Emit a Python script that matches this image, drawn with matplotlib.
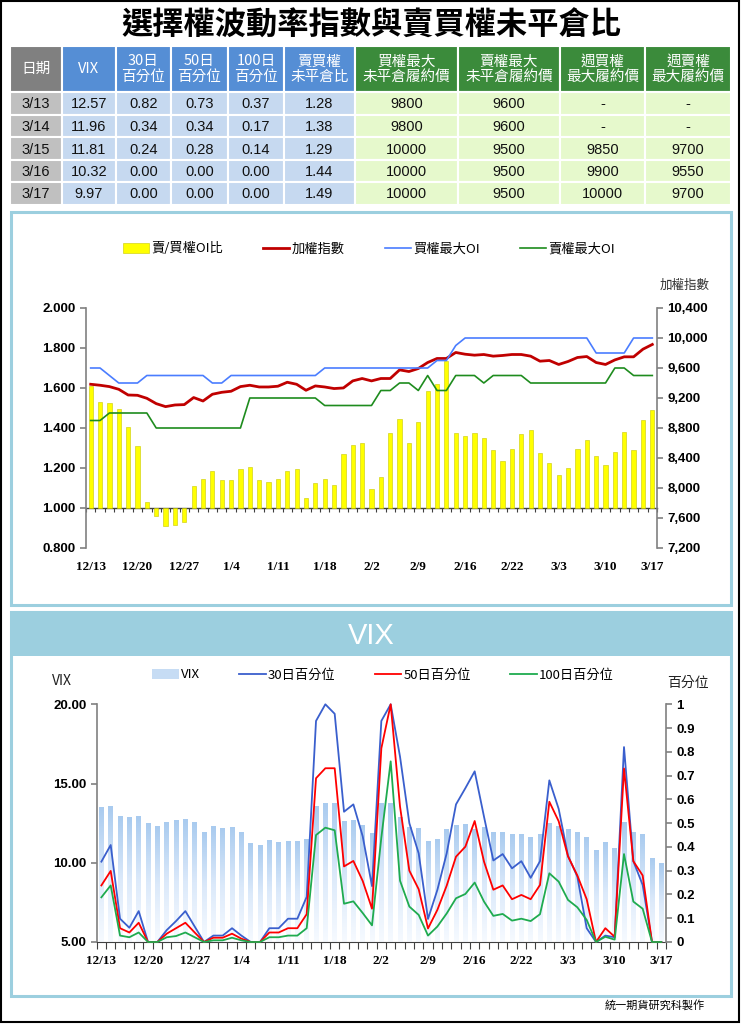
import numpy as np
import matplotlib
matplotlib.use('Agg')
import matplotlib.pyplot as plt
from matplotlib.patches import Rectangle
from matplotlib.lines import Line2D
from matplotlib.colors import LinearSegmentedColormap
from matplotlib.ticker import FormatStrFormatter, FuncFormatter

plt.rcParams['font.family'] = ['Noto Sans CJK TC', 'DejaVu Sans']

dates = ['12/13', '12/14', '12/15', '12/16', '12/19', '12/20', '12/21', '12/22', '12/23', '12/26',
         '12/27', '12/28', '12/29', '12/30', '1/3', '1/4', '1/5', '1/6', '1/9', '1/10',
         '1/11', '1/12', '1/13', '1/16', '1/17', '1/18', '1/19', '1/20', '1/23', '1/24',
         '2/2', '2/3', '2/6', '2/7', '2/8', '2/9', '2/10', '2/13', '2/14', '2/15',
         '2/16', '2/17', '2/18', '2/20', '2/21', '2/22', '2/23', '2/24', '3/1', '3/2',
         '3/3', '3/6', '3/7', '3/8', '3/9', '3/10', '3/13', '3/14', '3/15', '3/16', '3/17']

# 賣/買權OI比
oi_ratio = [1.61, 1.53, 1.525, 1.497, 1.405, 1.31, 1.031, 0.962, 0.912, 0.917,
            0.93, 1.111, 1.143, 1.183, 1.138, 1.138, 1.193, 1.206, 1.138, 1.13,
            1.146, 1.183, 1.193, 1.048, 1.124, 1.146, 1.114, 1.268, 1.315, 1.327,
            1.093, 1.156, 1.373, 1.444, 1.327, 1.43, 1.585, 1.62, 1.733, 1.377,
            1.36, 1.377, 1.35, 1.29, 1.237, 1.293, 1.368, 1.39, 1.273, 1.223,
            1.164, 1.2, 1.293, 1.342, 1.26, 1.216, 1.28, 1.38, 1.29, 1.44, 1.49]
# 加權指數
taiex = [9383, 9370, 9352, 9316, 9240, 9236, 9196, 9125, 9085, 9107,
         9112, 9206, 9160, 9250, 9276, 9290, 9352, 9370, 9347, 9347,
         9357, 9410, 9383, 9303, 9361, 9347, 9326, 9334, 9428, 9460,
         9428, 9460, 9460, 9575, 9553, 9593, 9673, 9727, 9727, 9807,
         9784, 9771, 9780, 9758, 9767, 9780, 9780, 9758, 9691, 9700,
         9647, 9687, 9740, 9753, 9673, 9647, 9708, 9749, 9749, 9851, 9914]
# 買權最大OI
call_max_oi = [9600, 9600, 9500, 9400, 9400, 9400, 9500, 9500, 9500, 9500,
               9500, 9500, 9500, 9400, 9400, 9500, 9500, 9500, 9500, 9500,
               9500, 9500, 9500, 9500, 9500, 9600, 9600, 9600, 9600, 9600,
               9600, 9600, 9600, 9600, 9600, 9600, 9600, 9700, 9700, 9900,
               10000, 10000, 10000, 10000, 10000, 10000, 10000, 10000, 10000, 10000,
               10000, 10000, 10000, 10000, 9800, 9800, 9800, 9800, 10000, 10000, 10000]
# 賣權最大OI
put_max_oi = [8900, 8900, 9000, 9000, 9000, 9000, 9000, 8800, 8800, 8800,
              8800, 8800, 8800, 8800, 8800, 8800, 8800, 9200, 9200, 9200,
              9200, 9200, 9200, 9200, 9200, 9100, 9100, 9100, 9100, 9100,
              9100, 9300, 9300, 9400, 9400, 9300, 9500, 9300, 9300, 9500,
              9500, 9500, 9400, 9500, 9500, 9500, 9500, 9400, 9400, 9400,
              9400, 9400, 9400, 9400, 9400, 9400, 9600, 9600, 9500, 9500, 9500]

vix = [13.50, 13.56, 12.93, 12.87, 12.93, 12.53, 12.32, 12.59, 12.70, 12.76,
       12.59, 11.96, 12.30, 12.19, 12.26, 11.96, 11.23, 11.12, 11.45, 11.33,
       11.36, 11.40, 11.51, 13.57, 13.77, 13.77, 12.64, 12.70, 12.39, 11.89,
       13.75, 13.79, 12.91, 12.27, 12.17, 11.38, 11.49, 12.11, 12.37, 12.42,
       12.11, 12.28, 11.94, 11.94, 11.80, 11.84, 11.61, 11.84, 12.49, 12.30,
       12.12, 11.94, 11.61, 10.82, 11.33, 10.94, 12.57, 11.96, 11.81, 10.32, 9.97]
pct30 = [0.338, 0.408, 0.098, 0.06, 0.13, 0, 0, 0.05, 0.088, 0.13,
         0.065, 0, 0.027, 0.027, 0.058, 0.027, 0, 0, 0.058, 0.058,
         0.098, 0.098, 0.19, 0.93, 1.0, 0.96, 0.548, 0.579, 0.445, 0.235,
         0.93, 1.0, 0.78, 0.50, 0.373, 0.097, 0.219, 0.373, 0.579, 0.647,
         0.718, 0.527, 0.343, 0.37, 0.31, 0.34, 0.27, 0.34, 0.68, 0.56,
         0.363, 0.275, 0.058, 0, 0.027, 0.02, 0.82, 0.34, 0.24, 0, 0]
pct50 = [0.238, 0.299, 0.058, 0.04, 0.081, 0, 0, 0.035, 0.058, 0.081,
         0.04, 0, 0.018, 0.018, 0.035, 0.014, 0, 0, 0.04, 0.04,
         0.058, 0.058, 0.117, 0.689, 0.731, 0.731, 0.318, 0.341, 0.257, 0.14,
         0.815, 1.0, 0.57, 0.30, 0.222, 0.057, 0.135, 0.237, 0.359, 0.401,
         0.509, 0.338, 0.22, 0.238, 0.18, 0.198, 0.18, 0.24, 0.59, 0.508,
         0.36, 0.28, 0.18, 0, 0.058, 0.022, 0.73, 0.34, 0.28, 0, 0]
pct100 = [0.188, 0.238, 0.027, 0.02, 0.04, 0, 0, 0.02, 0.025, 0.04,
          0.02, 0, 0.007, 0.007, 0.018, 0.007, 0, 0, 0.02, 0.02,
          0.027, 0.027, 0.058, 0.45, 0.481, 0.47, 0.161, 0.171, 0.122, 0.07,
          0.44, 0.76, 0.258, 0.149, 0.114, 0.027, 0.065, 0.12, 0.184, 0.202,
          0.25, 0.17, 0.11, 0.118, 0.09, 0.098, 0.088, 0.117, 0.289, 0.254,
          0.177, 0.146, 0.093, 0, 0.022, 0.01, 0.37, 0.17, 0.14, 0, 0]

weekly_call = ['-', '-', '9850', '9900', '10000']
weekly_put = ['-', '-', '9700', '9550', '9700']

title = '選擇權波動率指數與賣買權未平倉比'
headers = ['日期', 'VIX', '30日\n百分位', '50日\n百分位', '100日\n百分位', '賣買權\n未平倉比',
           '買權最大\n未平倉履約價', '賣權最大\n未平倉履約價', '週買權\n最大履約價', '週賣權\n最大履約價']

W, H = 742, 1024
fig = plt.figure(figsize=(W / 100, H / 100), dpi=100)
bg = fig.add_axes([0, 0, 1, 1])
bg.set_xlim(0, W)
bg.set_ylim(H, 0)
bg.axis('off')


def px_axes(l, t, r, b):
    a = fig.add_axes([l / W, 1 - b / H, (r - l) / W, (b - t) / H])
    a.patch.set_alpha(0)
    return a


bg.add_patch(Rectangle((1, 1), 738, 1021, fill=False, ec='black', lw=1.5))
bg.text(371, 26, title, ha='center', va='center', fontsize=22.5, fontweight='bold')

# table
n = 5
rows = []
for i in range(n):
    k = len(dates) - n + i
    rows.append([dates[k], f'{vix[k]:.2f}', f'{pct30[k]:.2f}', f'{pct50[k]:.2f}', f'{pct100[k]:.2f}',
                 f'{oi_ratio[k]:.2f}', str(call_max_oi[k]), str(put_max_oi[k]), weekly_call[i], weekly_put[i]])

col_x = [10, 62, 116, 171, 228, 284, 355, 458, 560, 645, 731]
row_y = [46, 92, 115, 137, 160, 182, 205]
head_fc = ['#808080'] + ['#558ed5'] * 5 + ['#3b8b3b'] * 4
body_fc = ['#c0c0c0'] + ['#c6d9f0'] * 5 + ['#e6f9cc'] * 4
for j in range(10):
    x0, x1 = col_x[j], col_x[j + 1]
    for i in range(6):
        y0, y1 = row_y[i], row_y[i + 1]
        fc = head_fc[j] if i == 0 else body_fc[j]
        bg.add_patch(Rectangle((x0, y0), x1 - x0, y1 - y0, fc=fc, ec='white', lw=1.5))
        if i == 0:
            bg.text((x0 + x1) / 2, (y0 + y1) / 2, headers[j], ha='center', va='center',
                    color='white', fontsize=10.5, linespacing=1.1)
        else:
            bg.text((x0 + x1) / 2, (y0 + y1) / 2 + 1, rows[i - 1][j], ha='center', va='center',
                    color='#111111', fontsize=10.5, family='Liberation Sans')

# panels
frame_c = '#9ccfdf'
bg.add_patch(Rectangle((11, 212), 720, 393, fill=False, ec=frame_c, lw=2.2))
bg.add_patch(Rectangle((11, 612), 720, 384, fill=False, ec=frame_c, lw=2.2))
bg.add_patch(Rectangle((12, 613), 718, 43, fc=frame_c, ec='none'))
bg.text(371, 636, 'VIX', ha='center', va='center', fontsize=21, color='white',
        family='Liberation Sans')
bg.text(655, 1005, '統一期貨研究科製作', ha='center', va='center', fontsize=8)

x = np.arange(len(dates))
bounds = np.arange(-0.5, len(dates), 1)
gray = '#808080'
tick_font = {'family': 'Liberation Sans', 'weight': 'bold', 'size': 9.5}
date_font = {'family': 'Liberation Serif', 'weight': 'bold', 'size': 9.5}

# top chart
ax1 = px_axes(86, 308, 657, 548)
ax1.bar(x, np.array(oi_ratio) - 1.0, bottom=1.0, width=0.45, color='#ffff00',
        edgecolor='#c8c800', linewidth=0.4, zorder=2)
ax1.set_xlim(-0.5, len(dates) - 0.5)
ax1.set_ylim(0.8, 2.0)
ax1.set_yticks(np.arange(0.8, 2.01, 0.2))
ax1.yaxis.set_major_formatter(FormatStrFormatter('%.3f'))
ax1.set_xticks(x[::5])
ax1.set_xticklabels(dates[::5], fontdict=date_font)
ax1.tick_params(axis='x', length=0, pad=9)
ax1.tick_params(axis='y', direction='out', length=4, color=gray, width=1.2)
for lab in ax1.get_yticklabels():
    lab.set_fontproperties(tick_font)
for s in ['top', 'bottom', 'right']:
    ax1.spines[s].set_visible(False)
ax1.spines['left'].set_color(gray)
ax1.spines['left'].set_linewidth(1.2)

sec = ax1.secondary_xaxis((1.0 - 0.8) / 1.2)
sec.set_xticks(bounds)
sec.set_xticklabels([])
sec.tick_params(direction='out', length=3, color='#404040', width=0.8)
for s in sec.spines.values():
    s.set_color('#404040')
    s.set_linewidth(1.0)

ax2 = ax1.twinx()
ax2.set_ylim(7200, 10400)
ax2.set_yticks(np.arange(7200, 10401, 400))
ax2.yaxis.set_major_formatter(FuncFormatter(lambda v, p: f'{v:,.0f}'))
ax2.plot(x, taiex, color='#c00000', lw=2.0, zorder=3)
ax2.plot(x, call_max_oi, color='#4a7dff', lw=1.2, zorder=3)
ax2.plot(x, put_max_oi, color='#1e8c1e', lw=1.2, zorder=3)
ax2.tick_params(axis='y', direction='out', length=4, color=gray, width=1.2)
for lab in ax2.get_yticklabels():
    lab.set_fontproperties(tick_font)
for s in ['top', 'bottom', 'left']:
    ax2.spines[s].set_visible(False)
ax2.spines['right'].set_color(gray)
ax2.spines['right'].set_linewidth(1.2)

handles = [Rectangle((0, 0), 1, 1, fc='#ffff00', ec='#c8c800', lw=0.4),
           Line2D([], [], color='#c00000', lw=2.0),
           Line2D([], [], color='#4a7dff', lw=1.2),
           Line2D([], [], color='#1e8c1e', lw=1.2)]
fig.legend(handles, ['賣/買權OI比', '加權指數', '買權最大OI', '賣權最大OI'], loc='center',
           bbox_to_anchor=(369 / W, 1 - 249 / H), ncol=4, frameon=False, fontsize=9.5,
           handlelength=2.0, handletextpad=0.2, columnspacing=3.0, handleheight=0.8)
bg.text(685, 285, '加權指數', ha='center', va='center', fontsize=9, color='#333333')

# bottom chart
ax3 = px_axes(96.7, 704.3, 666, 942)
bars = ax3.bar(x, np.array(vix) - 5, bottom=5, width=0.5, color='none', linewidth=0)
grad = LinearSegmentedColormap.from_list('vixgrad', ['#f6faff', '#dbe9fa', '#a9cbef'])
for p in bars:
    im = ax3.imshow(np.linspace(0, 1, 64).reshape(-1, 1), origin='lower', aspect='auto', cmap=grad,
                    extent=[p.get_x(), p.get_x() + p.get_width(), p.get_y(), p.get_y() + p.get_height()],
                    zorder=1)
    im.set_clip_path(p)
ax3.set_xlim(-0.5, len(dates) - 0.5)
ax3.set_ylim(5, 20)
ax3.set_yticks([5, 10, 15, 20])
ax3.yaxis.set_major_formatter(FormatStrFormatter('%.2f'))
ax3.set_xticks(x[::5])
ax3.set_xticklabels(dates[::5], fontdict=date_font)
ax3.set_xticks(bounds, minor=True)
ax3.tick_params(axis='x', which='major', length=0, pad=9)
ax3.tick_params(axis='x', which='minor', direction='out', length=5, color='#404040', width=0.8)
ax3.tick_params(axis='y', direction='out', length=4, color=gray, width=1.2)
for lab in ax3.get_yticklabels():
    lab.set_fontproperties(tick_font)
for s in ['top', 'right']:
    ax3.spines[s].set_visible(False)
ax3.spines['left'].set_color(gray)
ax3.spines['left'].set_linewidth(1.2)
ax3.spines['bottom'].set_color('#404040')

ax4 = ax3.twinx()
ax4.set_ylim(0, 1)
ax4.set_yticks(np.arange(0, 1.01, 0.1))
ax4.yaxis.set_major_formatter(FuncFormatter(lambda v, p: f'{v:.1f}'.rstrip('0').rstrip('.') if v > 0 else '0'))
ax4.plot(x, pct30, color='#3a5fcd', lw=1.3, clip_on=False)
ax4.plot(x, pct50, color='#ff0000', lw=1.3, clip_on=False)
ax4.plot(x, pct100, color='#1fab4f', lw=1.3, clip_on=False)
ax4.tick_params(axis='y', direction='out', length=4, color=gray, width=1.2)
for lab in ax4.get_yticklabels():
    lab.set_fontproperties(tick_font)
for s in ['top', 'bottom', 'left']:
    ax4.spines[s].set_visible(False)
ax4.spines['right'].set_color(gray)
ax4.spines['right'].set_linewidth(1.2)

handles = [Rectangle((0, 0), 1, 1, fc='#c6dcf4', ec='none'),
           Line2D([], [], color='#3a5fcd', lw=1.3),
           Line2D([], [], color='#ff0000', lw=1.3),
           Line2D([], [], color='#1fab4f', lw=1.3)]
fig.legend(handles, ['VIX', '30日百分位', '50日百分位', '100日百分位'], loc='center',
           bbox_to_anchor=(383 / W, 1 - 675 / H), ncol=4, frameon=False, fontsize=9.5,
           handlelength=2.0, handletextpad=0.15, columnspacing=3.0, handleheight=0.8)
bg.text(62, 681, 'VIX', ha='center', va='center', fontsize=10, color='#222222')
bg.text(688, 683, '百分位', ha='center', va='center', fontsize=10, color='#222222')

fig.savefig('out.png', dpi=100)
